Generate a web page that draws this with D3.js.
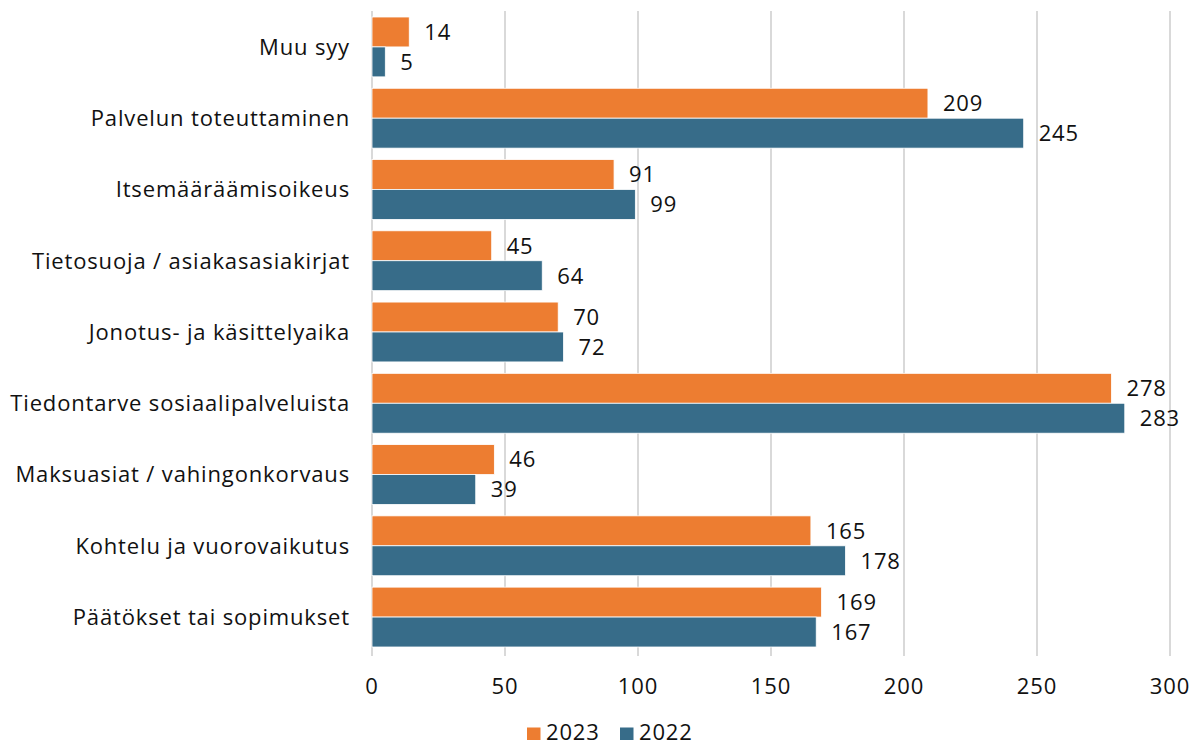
<!DOCTYPE html>
<html><head><meta charset="utf-8">
<script src="https://cdn.jsdelivr.net/npm/d3@7"></script>
<style>body{margin:0;background:#fff;}svg{display:block;font-family:"Open Sans",sans-serif;letter-spacing:0.85px;}</style>
</head><body><svg id="c" width="1195" height="746"></svg>
<script>
const categories = ["Muu syy","Palvelun toteuttaminen","Itsemääräämisoikeus","Tietosuoja / asiakasasiakirjat","Jonotus- ja käsittelyaika","Tiedontarve sosiaalipalveluista","Maksuasiat / vahingonkorvaus","Kohtelu ja vuorovaikutus","Päätökset tai sopimukset"];
const series = ["2023","2022"];
const values2023 = [14,209,91,45,70,278,46,165,169];
const values2022 = [5,245,99,64,72,283,39,178,167];
const xTicks = [0,50,100,150,200,250,300];
const colors = ["#ED7D31","#376C89"];

const svg = d3.select("#c");
const x = d3.scaleLinear().domain([0,300]).range([372,1170]);
const y = d3.scaleBand().domain(categories).range([11.3,652.7]).paddingInner(0.16).paddingOuter(0.08);
const ys = d3.scaleBand().domain(series).range([0,y.bandwidth()]);
const data = [values2023, values2022];
const FS = 22;

svg.append("g").selectAll("line").data(xTicks).join("line")
  .attr("x1",d=>x(d)).attr("x2",d=>x(d)).attr("y1",11).attr("y2",656)
  .attr("stroke","#d9d9d9").attr("stroke-width",2);

const g = svg.append("g");
categories.forEach((c,i)=>{
  series.forEach((s,j)=>{
    const v = data[j][i];
    g.append("rect").attr("x",x(0)).attr("y",y(c)+ys(s)).attr("width",x(v)-x(0)).attr("height",ys.bandwidth())
      .attr("fill",colors[j]).attr("stroke","#fff").attr("stroke-width",0.8);
    g.append("text").attr("x",x(v)+15).attr("y",y(c)+ys(s)+ys.bandwidth()/2).attr("dy","0.36em")
      .attr("font-size",FS).attr("fill","#111").text(v);
  });
});

svg.append("g").selectAll("text").data(categories).join("text")
  .attr("x",350).attr("y",d=>y(d)+y.bandwidth()/2).attr("dy","0.36em").attr("text-anchor","end")
  .attr("font-size",FS).attr("fill","#111").text(d=>d);

svg.append("g").selectAll("text").data(xTicks).join("text")
  .attr("x",d=>x(d)).attr("y",686).attr("dy","0.36em").attr("text-anchor","middle")
  .attr("font-size",FS).attr("fill","#111").text(d=>d);

const lg = svg.append("g");
const lx = [527,620];
series.forEach((s,j)=>{
  lg.append("rect").attr("x",lx[j]).attr("y",727.5).attr("width",13.5).attr("height",12.5).attr("fill",colors[j]);
  lg.append("text").attr("x",lx[j]+19).attr("y",739.5).attr("font-size",FS).attr("fill","#111").text(s);
});
</script></body></html>
